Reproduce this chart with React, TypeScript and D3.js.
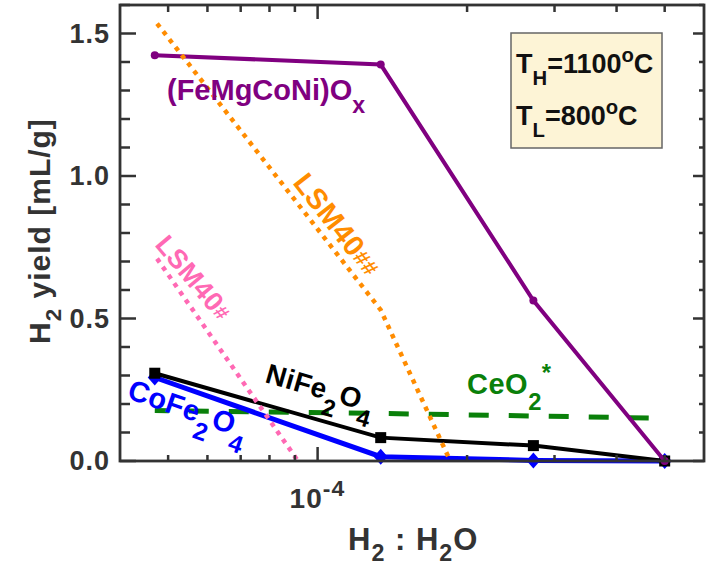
import React, { useEffect, useRef } from 'react';
import * as d3 from 'd3';

// H2 : H2O ratios of the measured points
const ratios = [4.7e-5, 1.34e-4, 2.72e-4, 5.0e-4];
const feMgCoNi = [1.424, 1.391, 0.563, 0.0];
const niFe2O4 = [0.308, 0.082, 0.054, 0.0];
const coFe2O4 = [0.293, 0.015, 0.002, 0.0];
const ceO2 = [0.177, 0.167, 0.158, 0.15];
// literature curves
const lsm40bX = [4.75e-5, 1.34e-4, 1.85e-4];
const lsm40bY = [1.535, 0.53, 0.0];
const lsm40aX = [4.75e-5, 9.13e-5];
const lsm40aY = [0.71, 0.0];

const yMajor = [0, 0.5, 1.0, 1.5];
const yLabels = ['0.0', '0.5', '1.0', '1.5'];
const yMinor = [0.1, 0.2, 0.3, 0.4, 0.6, 0.7, 0.8, 0.9, 1.1, 1.2, 1.3, 1.4, 1.6];
const xMajor = [1e-4];
const xMinor = [5e-5, 6e-5, 7e-5, 8e-5, 9e-5, 2e-4, 3e-4, 4e-4, 5e-4];

const FONT = '"Liberation Sans", Arial, Helvetica, sans-serif';
const AXIS = '#333333';

type Part = { t: string; sub?: boolean; sup?: boolean };

const App: React.FC = () => {
    const svgRef = useRef<SVGSVGElement | null>(null);

    useEffect(() => {
        if (!svgRef.current) return;
        const svg = d3.select(svgRef.current);
        svg.selectAll('*').remove();

        const left = 120, right = 704, top = 5, bottom = 461;
        const x = d3.scaleLog().domain([4e-5, 6e-4]).range([left, right]);
        const y = d3.scaleLinear().domain([0, 1.6]).range([bottom, top]);

        // rich text with sub/superscripts
        const richText = (
            parts: Part[], px: number, py: number, size: number, color: string,
            rotate = 0, subScale = 0.78, subShift = 0.42, supShift = 0.45, spacing = 0.5
        ) => {
            const t = svg.append('text')
                .attr('transform', `translate(${px},${py}) rotate(${rotate})`)
                .style('font-family', FONT)
                .style('font-weight', 'bold')
                .style('font-size', `${size}px`)
                .style('letter-spacing', `${spacing}px`)
                .style('fill', color);
            let shift = 0;
            parts.forEach((p) => {
                let target = 0;
                if (p.sub) target = subShift * size;
                if (p.sup) target = -supShift * size;
                const ts = t.append('tspan').text(p.t).attr('dy', target - shift);
                if (p.sub || p.sup) ts.style('font-size', `${size * subScale}px`);
                shift = target;
            });
            return t;
        };

        // lines
        const line = (xs: number[], ys: number[]) =>
            d3.line<number>().x((d, i) => x(xs[i])).y((d) => y(d))(ys) as string;

        svg.append('path').attr('d', line(ratios, ceO2))
            .style('fill', 'none').style('stroke', '#0a800a').style('stroke-width', 5)
            .style('stroke-dasharray', '20 20').style('stroke-dashoffset', 6);

        svg.append('path').attr('d', line(ratios, coFe2O4))
            .style('fill', 'none').style('stroke', '#0000ff').style('stroke-width', 5);
        svg.selectAll('path.diamond').data(coFe2O4).enter().append('path')
            .attr('class', 'diamond')
            .attr('d', (d, i) => {
                const cx = x(ratios[i]), cy = y(d);
                return `M${cx},${cy - 8}L${cx + 7},${cy}L${cx},${cy + 8}L${cx - 7},${cy}Z`;
            })
            .style('fill', '#0000ff');

        svg.append('path').attr('d', line(ratios, niFe2O4))
            .style('fill', 'none').style('stroke', '#000').style('stroke-width', 4);
        svg.selectAll('rect.sq').data(niFe2O4).enter().append('rect')
            .attr('class', 'sq')
            .attr('x', (d, i) => x(ratios[i]) - 5.5)
            .attr('y', (d) => y(d) - 5.5)
            .attr('width', 11).attr('height', 11)
            .style('fill', '#000');

        svg.append('path').attr('d', line(ratios, feMgCoNi))
            .style('fill', 'none').style('stroke', '#800080').style('stroke-width', 4);
        svg.selectAll('circle.hea').data(feMgCoNi).enter().append('circle')
            .attr('class', 'hea')
            .attr('cx', (d, i) => x(ratios[i]))
            .attr('cy', (d) => y(d))
            .attr('r', 4)
            .style('fill', '#800080');

        svg.append('path').attr('d', line(lsm40bX, lsm40bY))
            .style('fill', 'none').style('stroke', '#ff8c00').style('stroke-width', 4.5)
            .style('stroke-dasharray', '4.5 5.5');
        svg.append('path').attr('d', line(lsm40aX, lsm40aY))
            .style('fill', 'none').style('stroke', '#ff69b4').style('stroke-width', 4.5)
            .style('stroke-dasharray', '4.5 5.5');

        // frame
        svg.append('rect')
            .attr('x', left).attr('y', top)
            .attr('width', right - left).attr('height', bottom - top)
            .style('fill', 'none').style('stroke', AXIS).style('stroke-width', 2.8);

        // ticks on all four sides, pointing inward
        const tick = (x1: number, y1: number, x2: number, y2: number, w = 2.5) =>
            svg.append('line').attr('x1', x1).attr('y1', y1).attr('x2', x2).attr('y2', y2)
                .style('stroke', AXIS).style('stroke-width', w);
        yMajor.forEach((v) => { tick(left, y(v), left + 16, y(v)); tick(right, y(v), right - 11, y(v)); });
        yMinor.forEach((v) => { tick(left, y(v), left + 10, y(v)); tick(right, y(v), right - 5, y(v)); });
        xMajor.forEach((v) => { tick(x(v), bottom, x(v), bottom - 14); tick(x(v), top, x(v), top + 14); });
        xMinor.forEach((v) => { tick(x(v), bottom, x(v), bottom - 6); tick(x(v), top, x(v), top + 7); });

        svg.selectAll('text.ytick').data(yMajor).enter().append('text')
            .attr('class', 'ytick')
            .attr('x', left - 10).attr('y', (d) => y(d) + 9)
            .attr('text-anchor', 'end')
            .style('font-family', FONT).style('font-weight', 'bold').style('font-size', '27px')
            .style('letter-spacing', '1px')
            .style('fill', AXIS)
            .text((d, i) => yLabels[i]);

        richText([{ t: '10' }, { t: '-4', sup: true }], x(1e-4) - 28, 508, 28, AXIS, 0, 0.82, 0, 0.42, 1);

        // axis titles
        richText([{ t: 'H' }, { t: '2', sub: true }, { t: ' yield [mL/g]' }], 50, 344, 30, AXIS, -90, 0.75, 0.35, 0.45, 1);
        richText([{ t: 'H' }, { t: '2', sub: true }, { t: ' : H' }, { t: '2', sub: true }, { t: 'O' }],
            348, 550, 31, AXIS, 0, 0.75, 0.35, 0.45, 1);

        // series labels
        richText([{ t: '(FeMgCoNi)O' }, { t: 'x', sub: true }], 167, 100, 29, '#800080', 0, 0.8, 0.45, 0.45, 0);
        richText([{ t: 'LSM40' }, { t: '##', sup: true }], 292, 183, 29, '#ff8c00', 52, 0.75, 0, 0.05);
        richText([{ t: 'LSM40' }, { t: '#', sup: true }], 154, 245, 27, '#ff69b4', 50, 0.75, 0, 0.05);
        richText([{ t: 'NiFe' }, { t: '2', sub: true }, { t: 'O' }, { t: '4', sub: true }],
            264, 382, 28, '#000', 16, 0.85, 0.55);
        richText([{ t: 'CoFe' }, { t: '2', sub: true }, { t: 'O' }, { t: '4', sub: true }],
            126, 398, 29, '#0000ff', 19, 0.85, 0.55);
        richText([{ t: 'CeO' }, { t: '2', sub: true }, { t: '*', sup: true }],
            467, 394, 29, '#0a800a', 0, 0.82, 0.55, 0.45);

        // condition box
        svg.append('rect')
            .attr('x', 511).attr('y', 33).attr('width', 151).attr('height', 115)
            .style('fill', '#fdf4d6').style('stroke', '#666').style('stroke-width', 1.5);
        richText([{ t: 'T' }, { t: 'H', sub: true }, { t: '=1100' }, { t: 'o', sup: true }, { t: 'C' }],
            516, 73, 27, '#111', 0, 0.75, 0.45, 0.42, 0);
        richText([{ t: 'T' }, { t: 'L', sub: true }, { t: '=800' }, { t: 'o', sup: true }, { t: 'C' }],
            516, 125, 27, '#111', 0, 0.75, 0.45, 0.42, 0);
    }, []);

    return (
        <svg ref={svgRef} width={706} height={567}
            style={{ position: 'absolute', left: 0, top: 0, background: '#fff' }}>
        </svg>
    );
};

export default App;
